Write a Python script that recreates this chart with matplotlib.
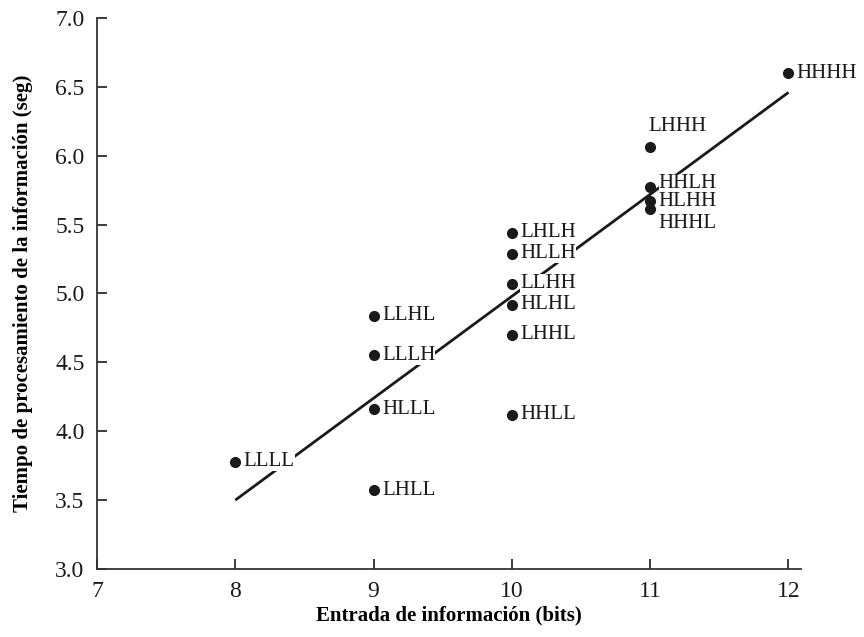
import matplotlib
matplotlib.use("Agg")
import matplotlib.pyplot as plt

plt.rcParams['font.family'] = ['Liberation Serif', 'DejaVu Serif']

bits = [8, 9, 9, 9, 9, 10, 10, 10, 10, 10, 10, 11, 11, 11, 11, 12]
times = [3.78, 3.57, 4.16, 4.55, 4.84, 4.12, 4.70, 4.92, 5.07, 5.29, 5.44,
         5.61, 5.67, 5.77, 6.06, 6.60]
codes = ["LLLL", "LHLL", "HLLL", "LLLH", "LLHL", "HHLL", "LHHL", "HLHL",
         "LLHH", "HLLH", "LHLH", "HHHL", "HLHH", "HHLH", "LHHH", "HHHH"]
# label offsets in points (dx, dy)
offsets = {"LHHH": (-1, 15), "HHHL": (6, -10), "HHLH": (6, 3), "HLHH": (6, 0)}
label_z = {"HLHH": 2.6, "HHLH": 2.4, "HHHL": 2.2}

fit_x = [8, 12]
fit_y = [3.50, 6.46]

xticks = [7, 8, 9, 10, 11, 12]
yticks = [3.0, 3.5, 4.0, 4.5, 5.0, 5.5, 6.0, 6.5, 7.0]

fig = plt.figure(figsize=(8.64, 6.37), dpi=100)
ax = fig.add_axes([0.1123, 0.1068, 0.927 - 0.1123, 0.9717 - 0.1068])

ax.plot(fit_x, fit_y, color='#1a1a1a', lw=2.0, zorder=1, solid_capstyle='butt')
ax.plot(bits, times, 'o', color='#1a1a1a', ms=7, zorder=3)

for x, y, c in zip(bits, times, codes):
    dx, dy = offsets.get(c, (6, 0))
    ax.annotate(c, (x, y), xytext=(dx, dy), textcoords='offset points',
                ha='left', va='center', fontsize=15, color='#1a1a1a',
                bbox=dict(boxstyle='square,pad=0.0', fc='white', ec='none'),
                zorder=label_z.get(c, 2))

ax.set_xlim(7, 12.09)
ax.set_ylim(3.0, 7.0)
ax.set_xticks(xticks)
ax.set_xticklabels([str(t) for t in xticks])
ax.set_yticks(yticks)
ax.set_yticklabels([f"{t:.1f}" for t in yticks])
ax.tick_params(direction='in', length=7.5, width=1.2, labelsize=17, colors='#1a1a1a', pad=9)

for s in ['top', 'right']:
    ax.spines[s].set_visible(False)
for s in ['left', 'bottom']:
    ax.spines[s].set_linewidth(1.3)
    ax.spines[s].set_color('#333333')

ax.set_xlabel("Entrada de información (bits)", fontsize=15, fontweight='bold', labelpad=2)
ax.set_ylabel("Tiempo de procesamiento de la información (seg)", fontsize=15,
              fontweight='bold', labelpad=16)

fig.savefig("out.png", dpi=100)
